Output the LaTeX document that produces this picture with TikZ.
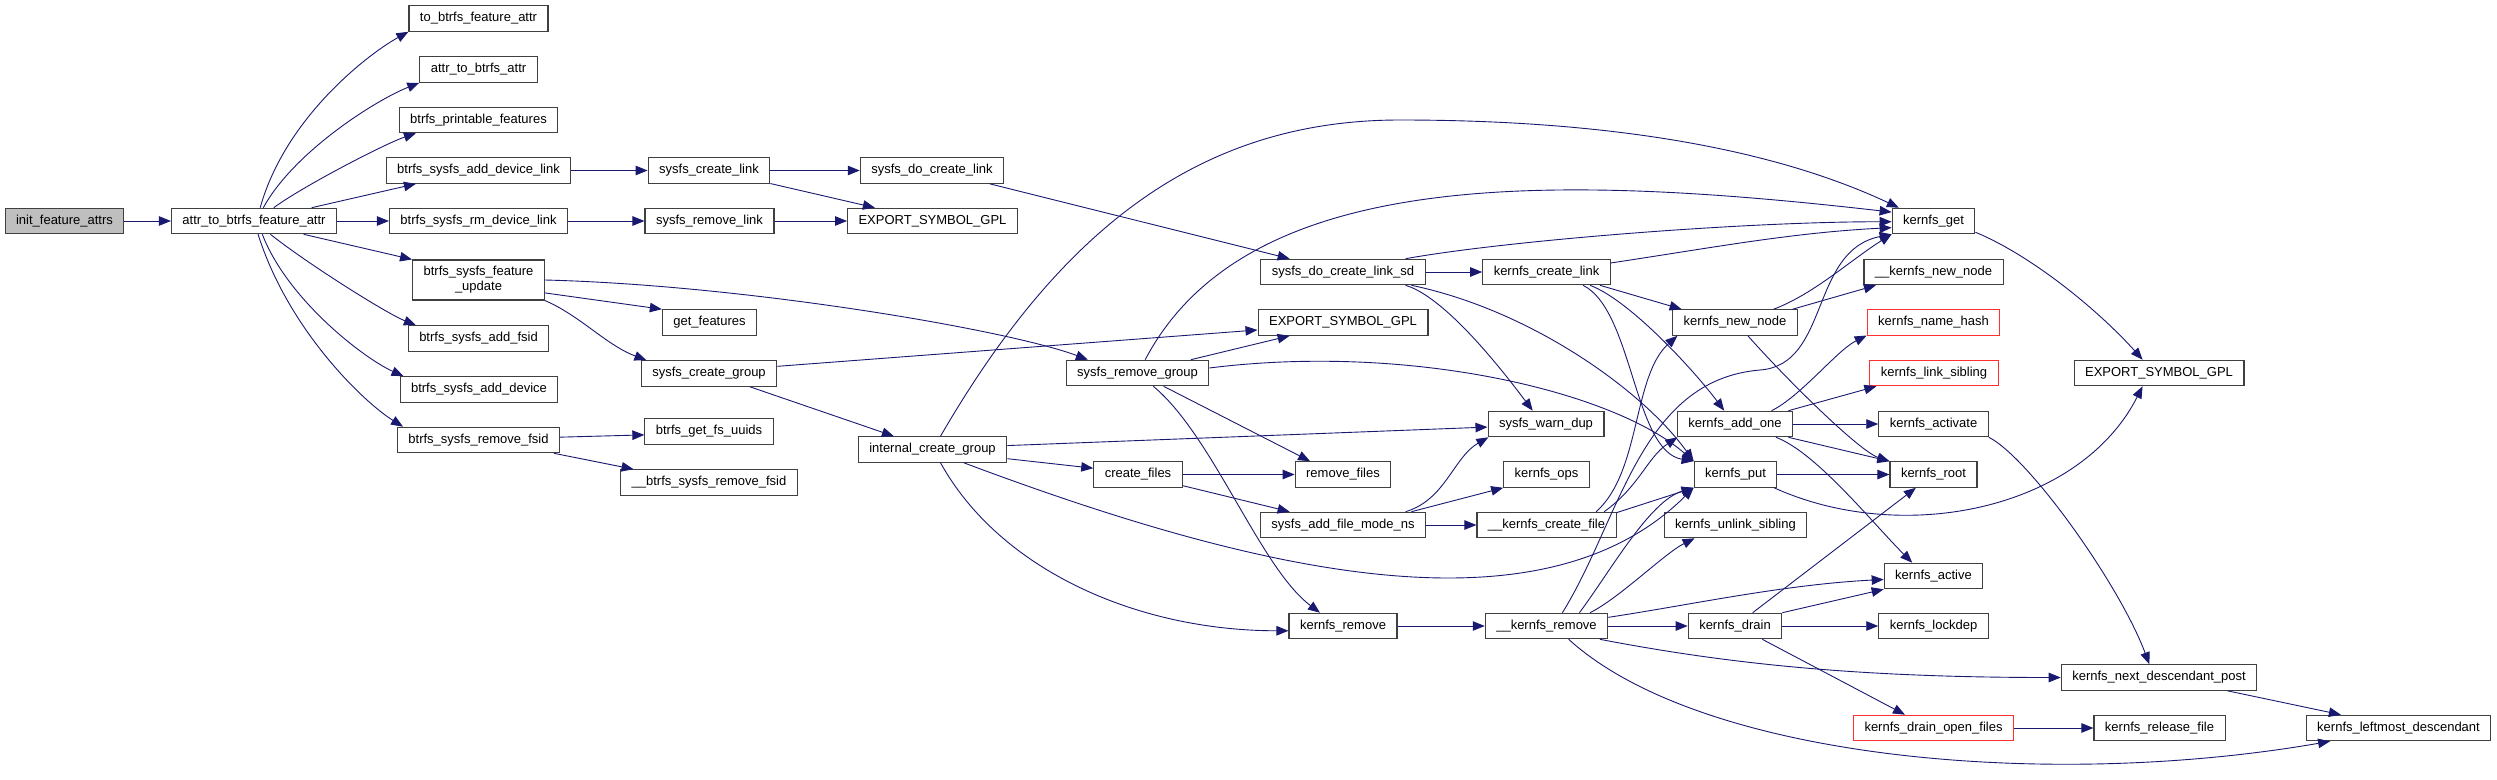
\documentclass[tikz,border=0pt]{standalone}
\usepackage{fontspec}
\setmainfont{Liberation Sans}
\usepackage{xcolor}
\usetikzlibrary{arrows.meta}
\definecolor{EdgeNavy} {HTML}{191970}
\definecolor{BoxEdge}  {HTML}{404040}
\definecolor{BoxRed}   {HTML}{FF3030}
\definecolor{RootFill} {HTML}{BFBFBF}

\tikzset{
  fnbox/.style={draw=BoxEdge, line width=1.1pt, fill=white, minimum height=25.5pt,
                inner xsep=11pt, inner ysep=0pt, font=\fontsize{13}{15}\selectfont},
  fnred/.style={fnbox, draw=BoxRed},
  calls/.style={draw=EdgeNavy, line width=0.9pt, -{Triangle[length=12pt,width=9.5pt]}}
}

\begin{document}
\begin{tikzpicture}[x=1pt, y=-1pt]
  \useasboundingbox (0,0) rectangle (2497,779);

  % ===== ROOT =====
  \node[fnbox, fill=RootFill] (initattrs) at (64.5,221) {init\_feature\_attrs};
  \node[fnbox] (attrfeat) at (254,221) {attr\_to\_btrfs\_feature\_attr};

  % ===== BTRFS CALLEES =====
  \node[fnbox] (tofeat)     at (478.5,18.5)  {to\_btrfs\_feature\_attr};
  \node[fnbox] (attrbtrfs)  at (478.5,69.5)  {attr\_to\_btrfs\_attr};
  \node[fnbox] (printable)  at (478.5,120)   {btrfs\_printable\_features};
  \node[fnbox] (adddevlink) at (478.5,170.5) {btrfs\_sysfs\_add\_device\_link};
  \node[fnbox] (rmdevlink)  at (478.5,221)   {btrfs\_sysfs\_rm\_device\_link};
  \node[fnbox, minimum height=40pt, align=center] (featupdate) at (478.5,280)
        {btrfs\_sysfs\_feature\\\_update};
  \node[fnbox] (addfsid)    at (478.5,338.5) {btrfs\_sysfs\_add\_fsid};
  \node[fnbox] (adddevice)  at (479,389.5)   {btrfs\_sysfs\_add\_device};
  \node[fnbox] (removefsid) at (478.5,440)   {btrfs\_sysfs\_remove\_fsid};

  % ===== SYSFS LAYER =====
  \node[fnbox] (createlink)  at (709,170.5)   {sysfs\_create\_link};
  \node[fnbox] (removelink)  at (709.5,221)   {sysfs\_remove\_link};
  \node[fnbox] (getfeatures) at (709.5,322.5) {get\_features};
  \node[fnbox] (creategroup) at (709,373.5)   {sysfs\_create\_group};
  \node[fnbox] (getuuids)    at (709,431.5)   {btrfs\_get\_fs\_uuids};
  \node[fnbox] (uremovefsid) at (709,482.5)   {\_\_btrfs\_sysfs\_remove\_fsid};

  \node[fnbox] (docreatelink)  at (932,170.5)   {sysfs\_do\_create\_link};
  \node[fnbox] (exportA)       at (932.5,221)   {EXPORT\_SYMBOL\_GPL};
  \node[fnbox] (internalgroup) at (932.5,449.5) {internal\_create\_group};
  \node[fnbox] (removegroup)   at (1137.5,373)  {sysfs\_remove\_group};
  \node[fnbox] (createfiles)   at (1138,474.5)  {create\_files};

  \node[fnbox] (docreatelinksd) at (1343,272)   {sysfs\_do\_create\_link\_sd};
  \node[fnbox] (exportB)        at (1343,322.5) {EXPORT\_SYMBOL\_GPL};
  \node[fnbox] (removefiles)    at (1343,474.5) {remove\_files};
  \node[fnbox] (addfile)        at (1343,525)   {sysfs\_add\_file\_mode\_ns};
  \node[fnbox] (kremove)        at (1343,626)   {kernfs\_remove};

  % ===== KERNFS LAYER =====
  \node[fnbox] (createklink) at (1546.5,272)   {kernfs\_create\_link};
  \node[fnbox] (warndup)     at (1546,424)     {sysfs\_warn\_dup};
  \node[fnbox] (kops)        at (1546.5,474.5) {kernfs\_ops};
  \node[fnbox] (ucreatefile) at (1546.5,525)   {\_\_kernfs\_create\_file};
  \node[fnbox] (uremove)     at (1546.5,626)   {\_\_kernfs\_remove};

  \node[fnbox] (newnode)   at (1735,322.5)   {kernfs\_new\_node};
  \node[fnbox] (addone)    at (1735,424)     {kernfs\_add\_one};
  \node[fnbox] (kput)      at (1735.5,474.5) {kernfs\_put};
  \node[fnbox] (unlinksib) at (1735.5,525)   {kernfs\_unlink\_sibling};
  \node[fnbox] (kdrain)    at (1735,626)     {kernfs\_drain};

  \node[fnbox] (kget)      at (1933.5,221)   {kernfs\_get};
  \node[fnbox] (unewnode)  at (1933.5,272)   {\_\_kernfs\_new\_node};
  \node[fnred] (namehash)  at (1933.5,322.5) {kernfs\_name\_hash};
  \node[fnred] (linksib)   at (1934,373)     {kernfs\_link\_sibling};
  \node[fnbox] (activate)  at (1933.5,424)   {kernfs\_activate};
  \node[fnbox] (kroot)     at (1933.5,474.5) {kernfs\_root};
  \node[fnbox] (kactive)   at (1933.5,576)   {kernfs\_active};
  \node[fnbox] (lockdep)   at (1933.5,626)   {kernfs\_lockdep};
  \node[fnred] (drainopen) at (1933.5,728)   {kernfs\_drain\_open\_files};

  \node[fnbox] (exportC)     at (2159,373)    {EXPORT\_SYMBOL\_GPL};
  \node[fnbox] (nextdesc)    at (2159,677.5)  {kernfs\_next\_descendant\_post};
  \node[fnbox] (releasefile) at (2159.5,728)  {kernfs\_release\_file};
  \node[fnbox] (leftmost)    at (2398.5,728)  {kernfs\_leftmost\_descendant};

  % ===== STRAIGHT CALLS =====
  \foreach \a/\b in {initattrs/attrfeat, attrfeat/rmdevlink, adddevlink/createlink,
                     rmdevlink/removelink, createlink/docreatelink, removelink/exportA,
                     docreatelinksd/createklink, addone/activate, kput/kroot,
                     kdrain/lockdep, drainopen/releasefile, createfiles/removefiles,
                     addfile/ucreatefile, kremove/uremove, uremove/kdrain}
    \draw[calls] (\a.east) -- (\b.west);

  \foreach \a/\b in {attrfeat.13/adddevlink.192, attrfeat.-15/featupdate.north west,
                     featupdate.-11/getfeatures.north west, removefsid.2/getuuids.183,
                     removefsid.-10.6/uremovefsid.170, createlink.-12/exportA.167,
                     creategroup.-18/internalgroup.161.6, creategroup.6/exportB.185.6,
                     docreatelink.-13/docreatelinksd.166, removegroup.14/exportB.194,
                     removegroup.-27/removefiles.158, internalgroup.3/warndup.183,
                     internalgroup.-7/createfiles.172, createfiles.-14/addfile.166,
                     createklink.-14.4/newnode.166.5, ucreatefile.10/kput.south west,
                     newnode.13.5/unewnode.193.7, addone.14/linksib.193,
                     addone.-14/kroot.north west, kdrain.37/kroot.217,
                     kdrain.north east/kactive.south west, kdrain.-26/drainopen.155.5,
                     nextdesc.-11.6/leftmost.167.5, addfile.11/kops.south west}
    \draw[calls] (\a) -- (\b);

  % ===== FAN OUT OF attr_to_btrfs_feature_attr =====
  \draw[calls] (attrfeat.65) .. controls +(25,-90) and +(-40,22) .. (tofeat.south west);
  \draw[calls] (attrfeat.55) .. controls +(30,-55) and +(-45,18) .. (attrbtrfs.south west);
  \draw[calls] (attrfeat.34) .. controls +(30,-22) and +(-30,10) .. (printable.192.5);
  \draw[calls] (attrfeat.-39) .. controls +(35,28) and +(-30,-12) .. (addfsid.168.5);
  \draw[calls] (attrfeat.-58) .. controls +(25,65) and +(-40,-18) .. (adddevice.170);
  \draw[calls] (attrfeat.-73) .. controls +(30,95) and +(-40,-25) .. (removefsid.170);

  % ===== SYSFS CURVES =====
  \draw[calls] (featupdate.south east) .. controls +(35,15) and +(-40,-15) .. (creategroup.168.6);
  \draw[calls] (featupdate.east) .. controls +(200,5) and +(-80,-30) .. (removegroup.165);
  \draw[calls] (removegroup.60) .. controls +(100,-190) and +(-350,-40) .. (kget.168);
  \draw[calls] (removegroup.-40) .. controls +(60,50) and +(-60,-45) .. (kremove.150.5);
  \draw[calls] (removegroup.4) .. controls +(200,-25) and +(-80,-70) .. (kput.north west);
  \draw[calls] (internalgroup.59) .. controls +(120,-207) and +(-200,0) .. (1400,120)
               .. controls +(250,0) and +(-100,-47) .. (kget.159);
  \draw[calls] (internalgroup.-23) .. controls +(288,108) and +(-154,153) .. (kput.south west);
  \draw[calls] (internalgroup.-59) .. controls +(60,108) and +(-150,0) .. (kremove.185);
  \draw[calls] (docreatelinksd.12.4) .. controls +(100,-18) and +(-150,0) .. (kget.181);
  \draw[calls] (docreatelinksd.-12) .. controls +(40,12) and +(-30,-40) .. (warndup.135);
  \draw[calls] (docreatelinksd.-11.5) .. controls +(120,25) and +(-50,-70) .. (kput.north west);
  \draw[calls] (addfile.12.8) .. controls +(40,-12) and +(-35,20) .. (warndup.193.8);

  % ===== KERNFS CURVES =====
  \draw[calls] (createklink.8) .. controls +(100,-15) and +(-100,5) .. (kget.189.6);
  \draw[calls] (createklink.-17) .. controls +(40,15) and +(-30,-40) .. (addone.129);
  \draw[calls] (createklink.-20) .. controls +(50,25) and +(-60,-10) .. (kput.north west);
  \draw[calls] (ucreatefile.15.6) .. controls +(45,-40) and +(-45,40) .. (newnode.193.5);
  \draw[calls] (ucreatefile.13) .. controls +(35,-25) and +(-30,20) .. (addone.193.8);
  \draw[calls] (uremove.40) .. controls +(58,-93) and +(-120,10) .. (1760,370)
               .. controls +(70,-5) and +(-82,16) .. (kget.south west);
  \draw[calls] (uremove.22) .. controls +(32,-43) and +(-44,13) .. (kput.south west);
  \draw[calls] (uremove.17) .. controls +(30,-15) and +(-30,15) .. (unlinksib.198);
  \draw[calls] (uremove.8) .. controls +(80,-12) and +(-100,5) .. (kactive.184.5);
  \draw[calls] (uremove.-14) .. controls +(130,25) and +(-200,0) .. (nextdesc.west);
  \draw[calls] (uremove.-31) .. controls +(132,120) and +(-283,49) .. (leftmost.191);
  \draw[calls] (newnode.19.7) .. controls +(40,-15) and +(-40,25) .. (kget.south west);
  \draw[calls] (newnode.-46) .. controls +(40,45) and +(-30,-10) .. (kroot.north west);
  \draw[calls] (addone.20) .. controls +(30,-15) and +(-30,15) .. (namehash.191.7);
  \draw[calls] (addone.-18) .. controls +(40,15) and +(-40,-40) .. (kactive.148);
  \draw[calls] (activate.south east) .. controls +(40,20) and +(-30,-80) .. (nextdesc.126);
  \draw[calls] (kput.-19) .. controls +(128,58) and +(-63,124) .. (exportC.219);
  \draw[calls] (kget.-15) .. controls +(60,25) and +(-40,-45) .. (exportC.141);

\end{tikzpicture}
\end{document}
